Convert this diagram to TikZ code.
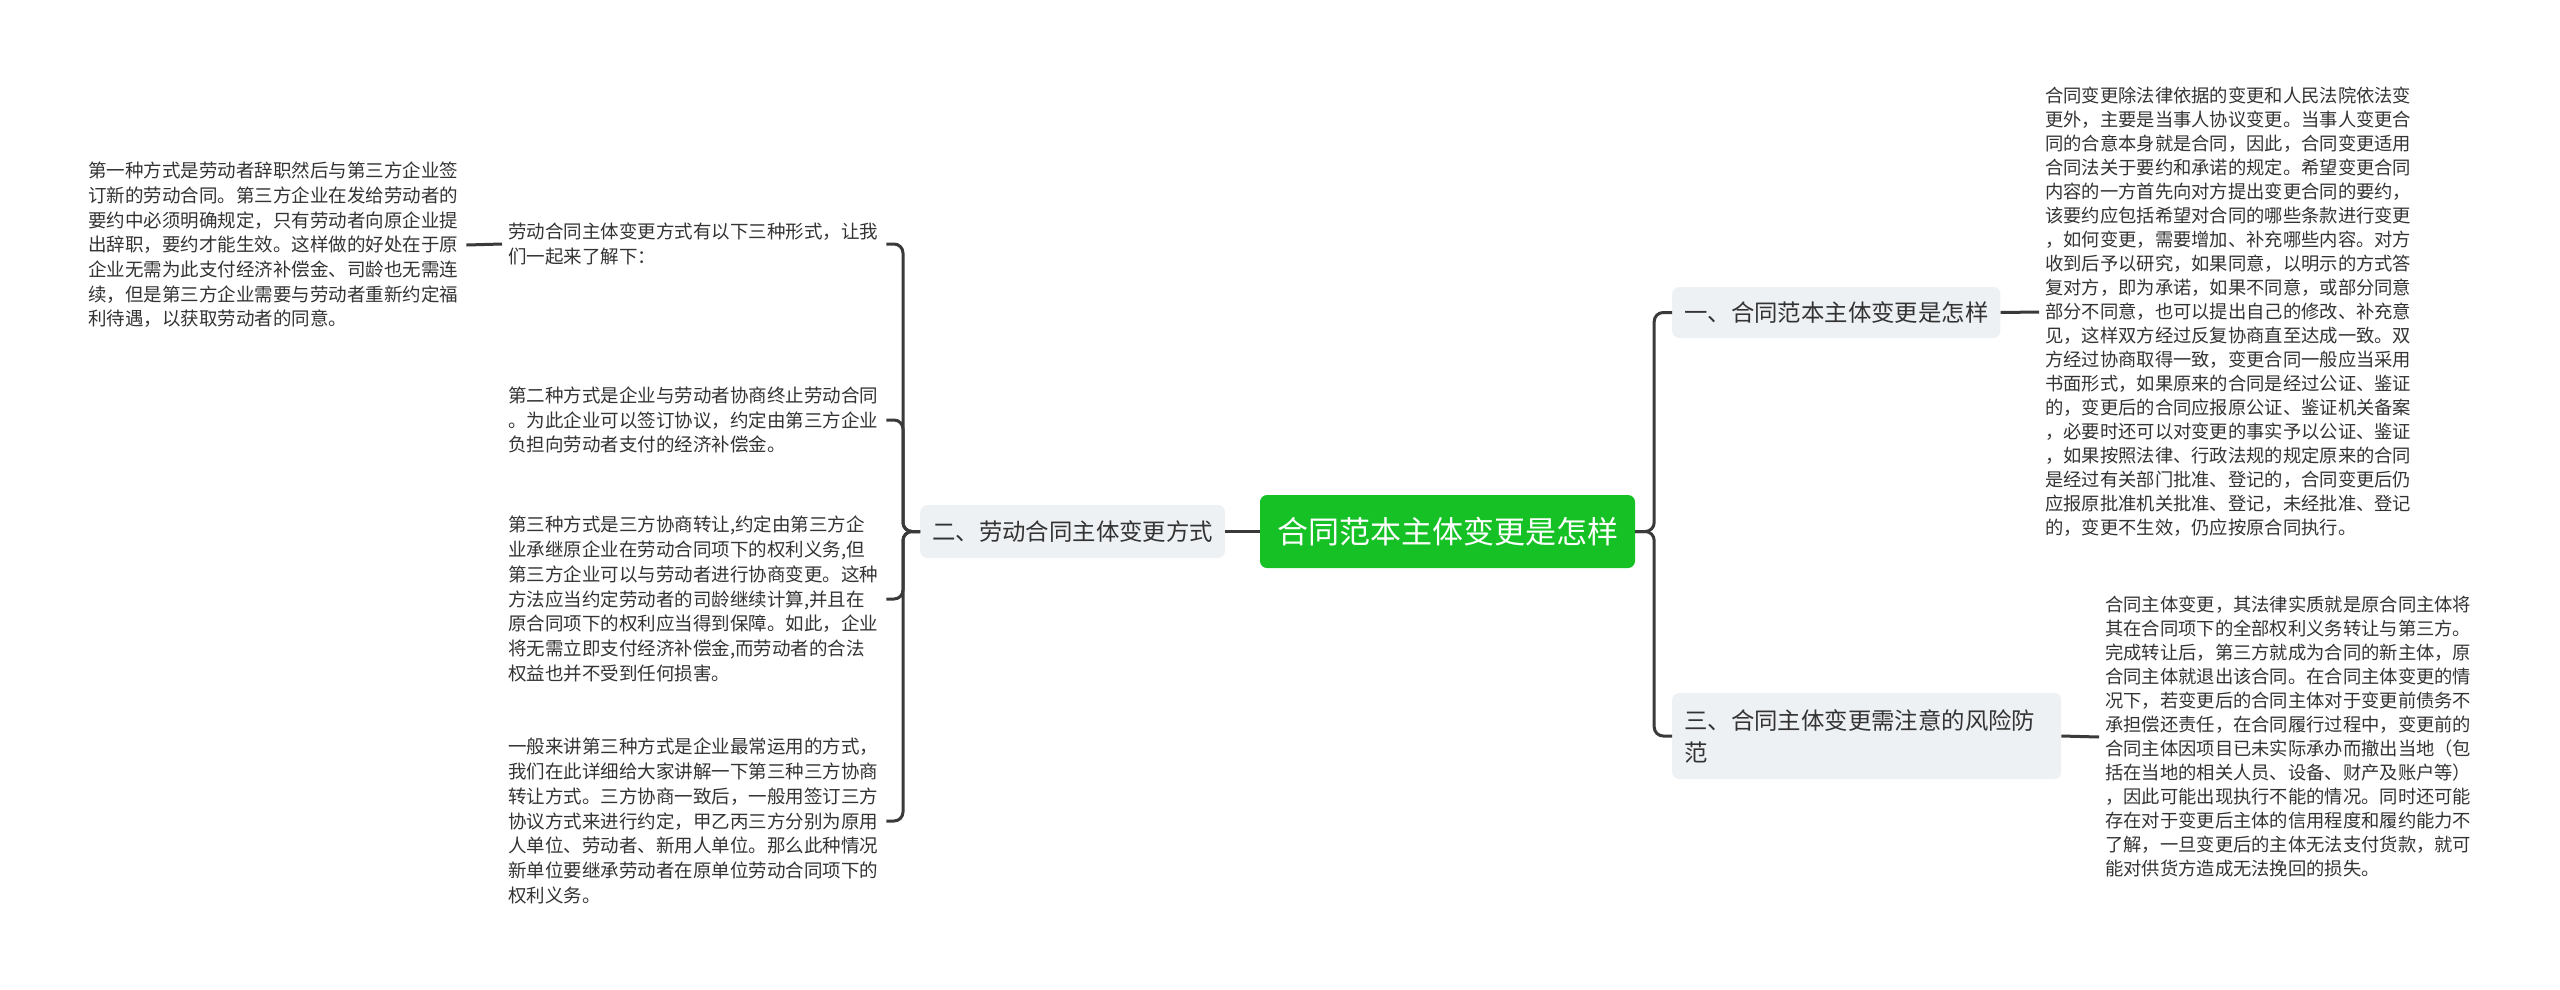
\documentclass[tikz,border=0pt]{standalone}
\usepackage{fontspec}
\newfontfamily\cjk{Noto Sans CJK SC}
\definecolor{mgreen}{HTML}{16C125}
\definecolor{mgray}{HTML}{EEF1F4}
\definecolor{mline}{HTML}{3A3A3A}
\definecolor{mtext}{HTML}{333333}
\tikzset{
  leafL/.style={anchor=west, inner xsep=6pt, inner ysep=4pt, text width=372pt, align=left, text=mtext, font=\cjk\fontsize{18.5}{24.7}\selectfont},
  leafR/.style={anchor=west, inner xsep=6pt, inner ysep=4pt, text width=366pt, align=left, text=mtext, font=\cjk\fontsize{18.3}{24}\selectfont},
  branch/.style={anchor=west, fill=mgray, rounded corners=7pt, text=mtext, font=\cjk\fontsize{23.4}{32}\selectfont, inner xsep=12pt, inner ysep=0pt, minimum height=53pt},
  root/.style={fill=mgreen, rounded corners=7pt, text=white, font=\cjk\fontsize{31}{36}\selectfont, minimum width=375pt, minimum height=73pt, inner sep=0pt},
  conn/.style={draw=mline, line width=3pt},
  fork/.style={conn, rounded corners=9pt},
}
\begin{document}
\begin{tikzpicture}[x=1pt,y=-1pt]
\useasboundingbox (0,0) rectangle (2560,989);

\node[root] (root) at (1447.5,531.5) {合同范本主体变更是怎样};

% left branch
\node[branch] (b2) at (920,531.5) {二、劳动合同主体变更方式};

\node[leafL] (A) at (502,244) {劳动合同主体变更方式有以下三种形式，让我\\们一起来了解下：};

\node[leafL] (E) at (82,245) {第一种方式是劳动者辞职然后与第三方企业签\\订新的劳动合同。第三方企业在发给劳动者的\\要约中必须明确规定，只有劳动者向原企业提\\出辞职，要约才能生效。这样做的好处在于原\\企业无需为此支付经济补偿金、司龄也无需连\\续，但是第三方企业需要与劳动者重新约定福\\利待遇，以获取劳动者的同意。};

\node[leafL] (B) at (502,420) {第二种方式是企业与劳动者协商终止劳动合同\\。为此企业可以签订协议，约定由第三方企业\\负担向劳动者支付的经济补偿金。};

\node[leafL] (C) at (502,599) {第三种方式是三方协商转让,约定由第三方企\\业承继原企业在劳动合同项下的权利义务,但\\第三方企业可以与劳动者进行协商变更。这种\\方法应当约定劳动者的司龄继续计算,并且在\\原合同项下的权利应当得到保障。如此，企业\\将无需立即支付经济补偿金,而劳动者的合法\\权益也并不受到任何损害。};

\node[leafL] (D) at (502,821) {一般来讲第三种方式是企业最常运用的方式，\\我们在此详细给大家讲解一下第三种三方协商\\转让方式。三方协商一致后，一般用签订三方\\协议方式来进行约定，甲乙丙三方分别为原用\\人单位、劳动者、新用人单位。那么此种情况\\新单位要继承劳动者在原单位劳动合同项下的\\权利义务。};

% right branches
\node[branch, minimum height=51pt] (b1) at (1672,312.5) {一、合同范本主体变更是怎样};
\node[branch, minimum height=86pt, text width=365pt, align=left] (b3) at (1672,736) {三、合同主体变更需注意的风险防\\范};

\node[leafR] (R1) at (2039,312) {合同变更除法律依据的变更和人民法院依法变\\更外，主要是当事人协议变更。当事人变更合\\同的合意本身就是合同，因此，合同变更适用\\合同法关于要约和承诺的规定。希望变更合同\\内容的一方首先向对方提出变更合同的要约，\\该要约应包括希望对合同的哪些条款进行变更\\，如何变更，需要增加、补充哪些内容。对方\\收到后予以研究，如果同意，以明示的方式答\\复对方，即为承诺，如果不同意，或部分同意\\部分不同意，也可以提出自己的修改、补充意\\见，这样双方经过反复协商直至达成一致。双\\方经过协商取得一致，变更合同一般应当采用\\书面形式，如果原来的合同是经过公证、鉴证\\的，变更后的合同应报原公证、鉴证机关备案\\，必要时还可以对变更的事实予以公证、鉴证\\，如果按照法律、行政法规的规定原来的合同\\是经过有关部门批准、登记的，合同变更后仍\\应报原批准机关批准、登记，未经批准、登记\\的，变更不生效，仍应按原合同执行。};

\node[leafR] (R2) at (2099,737) {合同主体变更，其法律实质就是原合同主体将\\其在合同项下的全部权利义务转让与第三方。\\完成转让后，第三方就成为合同的新主体，原\\合同主体就退出该合同。在合同主体变更的情\\况下，若变更后的合同主体对于变更前债务不\\承担偿还责任，在合同履行过程中，变更前的\\合同主体因项目已未实际承办而撤出当地（包\\括在当地的相关人员、设备、财产及账户等）\\，因此可能出现执行不能的情况。同时还可能\\存在对于变更后主体的信用程度和履约能力不\\了解，一旦变更后的主体无法支付货款，就可\\能对供货方造成无法挽回的损失。};

% connectors
\draw[conn] (root.west) -- (b2.east);
\foreach \c in {A,B,C,D} {
  \draw[fork] (b2.west) -- ++(-17,0) |- (\c.east);
}
\draw[conn] (A.west) -- (E.east);

\draw[fork] (root.east) -- ++(19,0) |- (b1.west);
\draw[fork] (root.east) -- ++(19,0) |- (b3.west);
\draw[conn] (b1.east) -- (R1.west);
\draw[conn] (b3.east) -- (R2.west);
\end{tikzpicture}
\end{document}
